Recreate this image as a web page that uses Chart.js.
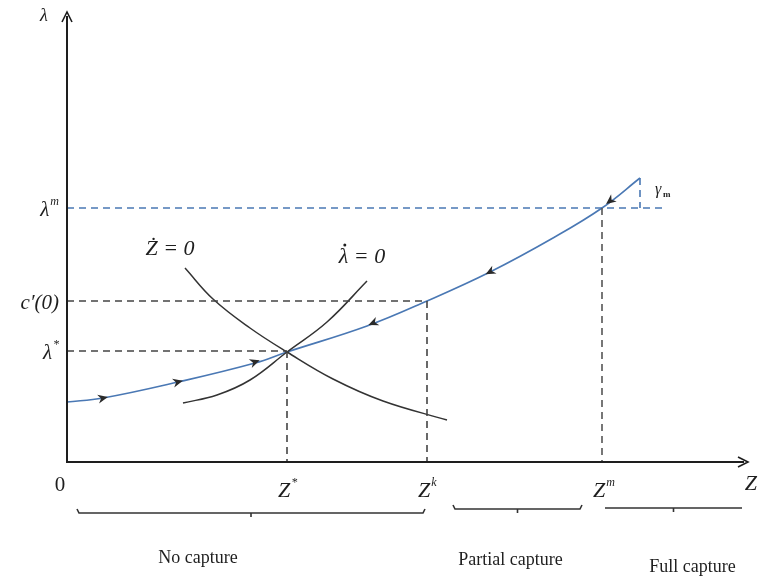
<!DOCTYPE html>
<html>
<head>
<meta charset="utf-8">
<script src="https://cdn.jsdelivr.net/npm/chart.js@4/dist/chart.umd.min.js"></script>
<style>
  html, body { margin: 0; padding: 0; background: #fff; }
  #wrap { width: 758px; height: 583px; }
</style>
</head>
<body>
<div id="wrap"><canvas id="phase" width="758" height="583"></canvas></div>
<script>
'use strict';

/* --------------------------------------------------------------------------
   DATA  (Z along the horizontal axis, lambda up the vertical axis)
   -------------------------------------------------------------------------- */
const saddleZ      = [0, 36, 111, 188, 220, 300, 360, 423, 486, 535, 573];
const saddleLambda = [60, 64, 80, 99, 110, 136, 161, 190, 224, 254, 284];

const zDotZ      = [118, 146, 183, 220, 266, 316, 380];
const zDotLambda = [194, 163, 134, 110, 83, 61, 42];

const lDotZ      = [116, 150, 183, 220, 260, 300];
const lDotLambda = [59, 67, 82, 110, 140, 181];

// arrows on the saddle path: position and direction (+1 right, -1 left)
const arrowZ      = [36, 111, 188, 306, 423, 543];
const arrowLambda = [64, 80, 100, 139, 190, 261];
const arrowDir    = [1, 1, 1, -1, -1, -1];

// steady state and thresholds
const zStar = 220, zK = 360, zM = 535, zTop = 573, zMax = 681;
const lamStar = 111, cPrime0 = 161, lamM = 254, lamTop = 284, lamMax = 450;

const xTickVals = [0, zStar, zK, zM];
const xTickBase = ['0', 'Z', 'Z', 'Z'];
const xTickSup  = ['', '*', 'k', 'm'];

const yTickVals = [lamM, cPrime0, lamStar];
const yTickBase = ['λ', 'c′(0)', 'λ'];
const yTickSup  = ['m', '', '*'];

const regionFrom  = [10, 386, 538];
const regionTo    = [358, 515, 675];
const regionLabel = ['No capture', 'Partial capture', 'Full capture'];

/* --------------------------------------------------------------------------
   HELPERS
   -------------------------------------------------------------------------- */
const pts = (xs, ys) => xs.map((x, i) => ({ x, y: ys[i] }));
const seg = (x0, y0, x1, y1) => [{ x: x0, y: y0 }, { x: x1, y: y1 }];

const INK = '#1e1e1e';
const BLUE = '#4a78b4';
const GUIDE = '#444';

function guide(data, color) {
    return {
        data, borderColor: color, borderWidth: 1.6, borderDash: [7, 5],
        pointRadius: 0, fill: false, tension: 0,
    };
}

function drawMath(ctx, base, sup, x, y, align, size) {
    const s = size || 22;
    ctx.font = 'italic ' + s + 'px "Liberation Serif", serif';
    const wb = ctx.measureText(base).width;
    ctx.font = 'italic ' + Math.round(s * 0.55) + 'px "Liberation Serif", serif';
    const ws = sup ? ctx.measureText(sup).width + 1 : 0;
    let x0 = x;
    if (align === 'center') x0 = x - (wb + ws) / 2;
    if (align === 'right') x0 = x - (wb + ws);
    ctx.textAlign = 'left';
    ctx.textBaseline = 'middle';
    ctx.fillStyle = INK;
    ctx.font = 'italic ' + s + 'px "Liberation Serif", serif';
    ctx.fillText(base, x0, y);
    if (sup) {
        ctx.font = 'italic ' + Math.round(s * 0.55) + 'px "Liberation Serif", serif';
        ctx.fillText(sup, x0 + wb + 1, y - s * 0.38);
    }
    return x0;
}

/* --------------------------------------------------------------------------
   PLUGIN: axes, arrows, labels, brackets
   -------------------------------------------------------------------------- */
const decorations = {
    id: 'decorations',
    afterDatasetsDraw(chart) {
        const { ctx, chartArea: a, scales: { x, y } } = chart;
        ctx.save();

        // axes with arrowheads
        ctx.strokeStyle = INK;
        ctx.fillStyle = INK;
        ctx.lineWidth = 2;
        ctx.beginPath();
        ctx.moveTo(a.left, a.bottom + 1); ctx.lineTo(a.left, a.top + 4);
        ctx.moveTo(a.left - 1, a.bottom); ctx.lineTo(a.right - 4, a.bottom);
        ctx.stroke();
        ctx.lineWidth = 1.6;
        ctx.beginPath();
        ctx.moveTo(a.left - 5, a.top + 10); ctx.lineTo(a.left, a.top); ctx.lineTo(a.left + 5, a.top + 10);
        ctx.moveTo(a.right - 10, a.bottom - 5); ctx.lineTo(a.right, a.bottom); ctx.lineTo(a.right - 10, a.bottom + 5);
        ctx.stroke();

        // flow arrows along the saddle path
        arrowZ.forEach((z, i) => {
            const px = x.getPixelForValue(z), py = y.getPixelForValue(arrowLambda[i]);
            let k = saddleZ.findIndex(v => v > z);
            if (k < 1) k = saddleZ.length - 1;
            const dx = x.getPixelForValue(saddleZ[k]) - x.getPixelForValue(saddleZ[k - 1]);
            const dy = y.getPixelForValue(saddleLambda[k]) - y.getPixelForValue(saddleLambda[k - 1]);
            let ang = Math.atan2(dy, dx);
            if (arrowDir[i] < 0) ang += Math.PI;
            ctx.save();
            ctx.translate(px, py);
            ctx.rotate(ang);
            ctx.fillStyle = '#2a2a2a';
            ctx.beginPath();
            ctx.moveTo(5, 0); ctx.lineTo(-5, -4.5); ctx.lineTo(-2, 0); ctx.lineTo(-5, 4.5);
            ctx.closePath();
            ctx.fill();
            ctx.restore();
        });

        // tick labels
        xTickVals.forEach((v, i) => {
            const px = x.getPixelForValue(v);
            if (v === 0) {
                ctx.font = '21px "Liberation Serif", serif';
                ctx.fillStyle = INK; ctx.textAlign = 'center'; ctx.textBaseline = 'middle';
                ctx.fillText('0', px - 7, a.bottom + 23);
            } else {
                drawMath(ctx, xTickBase[i], xTickSup[i], px - 9, a.bottom + 29, 'left');
            }
        });
        drawMath(ctx, 'Z', '', a.right + 9, a.bottom + 22, 'right');
        yTickVals.forEach((v, i) => {
            drawMath(ctx, yTickBase[i], yTickSup[i], a.left - 8, y.getPixelForValue(v) + 2, 'right', 21);
        });
        drawMath(ctx, 'λ', '', a.left - 27, a.top + 4, 'left', 18);

        // curve labels
        drawMath(ctx, 'Ż = 0', '', x.getPixelForValue(103), y.getPixelForValue(213), 'center');
        const lx = drawMath(ctx, 'λ = 0', '', x.getPixelForValue(295), y.getPixelForValue(205), 'center');
        ctx.beginPath();
        ctx.arc(lx + 6, y.getPixelForValue(205) - 12, 1.5, 0, Math.PI * 2);
        ctx.fill();
        drawMath(ctx, 'γ', '', x.getPixelForValue(588), y.getPixelForValue(272), 'left', 16);
        ctx.font = 'bold 9px "Liberation Serif", serif';
        ctx.fillText('m', x.getPixelForValue(596), y.getPixelForValue(267));

        // region brackets and captions
        const bracketY = [a.bottom + 51, a.bottom + 47, a.bottom + 46];
        const captionX = [-53, -7, 19];
        const captionY = [a.bottom + 96, a.bottom + 98, a.bottom + 105];
        ctx.strokeStyle = '#333';
        ctx.lineWidth = 1.6;
        regionFrom.forEach((z0, i) => {
            const x0 = x.getPixelForValue(z0), x1 = x.getPixelForValue(regionTo[i]);
            const by = bracketY[i], mid = (x0 + x1) / 2;
            const lip = i === 2 ? 0 : 4;
            ctx.beginPath();
            ctx.moveTo(x0, by - lip); ctx.lineTo(x0 + 2, by); ctx.lineTo(x1 - 2, by); ctx.lineTo(x1, by - lip);
            ctx.moveTo(mid, by); ctx.lineTo(mid, by + 4);
            ctx.stroke();
            ctx.font = '18px "Liberation Serif", serif';
            ctx.fillStyle = INK; ctx.textAlign = 'center'; ctx.textBaseline = 'middle';
            ctx.fillText(regionLabel[i], mid + captionX[i], captionY[i]);
        });

        ctx.restore();
    },
};

/* --------------------------------------------------------------------------
   CHART
   -------------------------------------------------------------------------- */
new Chart(document.getElementById('phase').getContext('2d'), {
    type: 'line',
    data: {
        datasets: [
            guide(seg(0, lamStar, zStar, lamStar), GUIDE),
            guide(seg(zStar, lamStar, zStar, 0), GUIDE),
            guide(seg(0, cPrime0, zK, cPrime0), GUIDE),
            guide(seg(zK, cPrime0, zK, 0), GUIDE),
            guide(seg(zM, lamM, zM, 0), '#555'),
            guide(seg(0, lamM, 599, lamM), BLUE),
            guide(seg(zTop, lamTop, zTop, lamM), BLUE),
            {
                label: 'Ż = 0', data: pts(zDotZ, zDotLambda),
                borderColor: '#333', borderWidth: 1.5, pointRadius: 0,
                tension: 0.4, fill: false,
            },
            {
                label: 'λ̇ = 0', data: pts(lDotZ, lDotLambda),
                borderColor: '#333', borderWidth: 1.5, pointRadius: 0,
                tension: 0.4, fill: false,
            },
            {
                label: 'saddle path', data: pts(saddleZ, saddleLambda),
                borderColor: BLUE, borderWidth: 1.6, pointRadius: 0,
                tension: 0.4, fill: false,
            },
        ],
    },
    options: {
        responsive: false,
        animation: false,
        layout: { padding: { left: 67, right: 10, top: 12, bottom: 121 } },
        plugins: { legend: { display: false }, tooltip: { enabled: false } },
        scales: {
            x: { type: 'linear', min: 0, max: zMax, display: false },
            y: { type: 'linear', min: 0, max: lamMax, display: false },
        },
    },
    plugins: [decorations],
});
</script>
</body>
</html>
